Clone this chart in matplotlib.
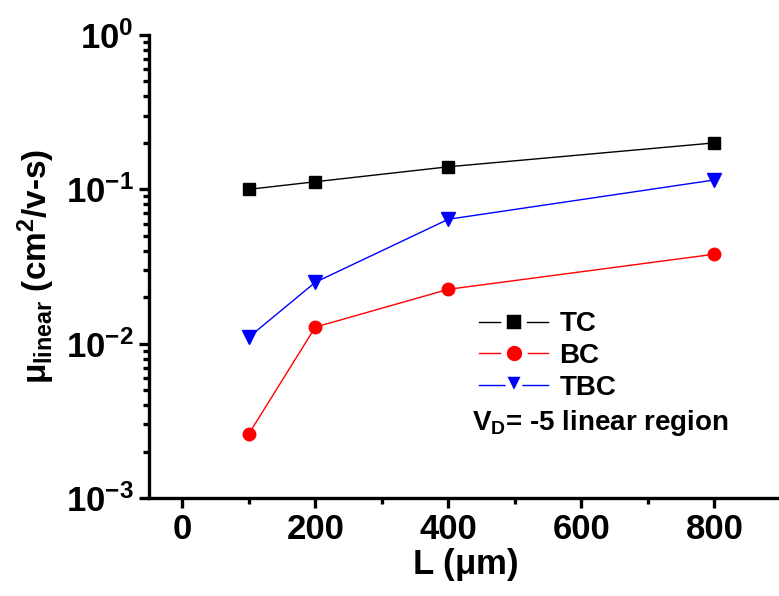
import numpy as np
import matplotlib
matplotlib.use("Agg")
from matplotlib import pyplot as plt
from matplotlib.ticker import LogLocator, MultipleLocator

plt.rcParams['font.family'] = ['Liberation Sans', 'DejaVu Sans']
plt.rcParams['font.weight'] = 'bold'
plt.rcParams['mathtext.fontset'] = 'custom'
plt.rcParams['mathtext.rm'] = 'Liberation Sans:bold'
plt.rcParams['mathtext.it'] = 'Liberation Sans:bold'
plt.rcParams['mathtext.bf'] = 'Liberation Sans:bold'

L = [100, 200, 400, 800]
mu_tc = [0.100, 0.112, 0.140, 0.200]
mu_bc = [0.0026, 0.0128, 0.0225, 0.038]
mu_tbc = [0.011, 0.025, 0.064, 0.115]

fig = plt.figure(figsize=(7.79, 5.96), dpi=100)
ax = fig.add_axes([149 / 779, 98 / 596, 632 / 779, 463 / 596])

ax.plot(L, mu_tc, '-s', color='black', lw=1, ms=8, label='TC')
ax.plot(L, mu_bc, '-o', color='red', lw=1, ms=9, label='BC')
ax.plot(L, mu_tbc, '-v', color='blue', lw=1, ms=10, label='TBC')

ax.set_yscale('log')
ax.set_ylim(1e-3, 1)
ax.set_xlim(-50, 900)
ax.xaxis.set_major_locator(MultipleLocator(200))
ax.xaxis.set_minor_locator(MultipleLocator(100))
ax.yaxis.set_major_locator(LogLocator(base=10, numticks=10))
ax.yaxis.set_minor_locator(LogLocator(base=10, subs=np.arange(2, 10), numticks=10))

for side in ['top', 'right']:
    ax.spines[side].set_visible(False)
for side in ['left', 'bottom']:
    ax.spines[side].set_linewidth(2.4)

ax.tick_params(axis='both', which='major', direction='out', length=7, width=2.4,
               labelsize=25, pad=4)
ax.tick_params(axis='both', which='minor', direction='out', length=4, width=2.4)

ax.set_xlabel(r'L ($\mu$m)', fontsize=25, fontweight='bold', labelpad=0)
ax.set_ylabel(r'$\mu_{\rm linear}$ (cm$^2$/v-s)', fontsize=24, fontweight='bold', labelpad=6)

leg = ax.legend(loc='upper left', bbox_to_anchor=(0.50, 0.433), frameon=False,
                fontsize=20, handlelength=2.5, handletextpad=0.4,
                labelspacing=0.2, borderpad=0)
# white marker edge leaves a small gap in the legend line around each marker
for h in leg.legend_handles:
    h.set_markeredgecolor('white')
    h.set_markeredgewidth(4)
    h.set_markersize(h.get_markersize() + 6)
ax.text(0.511, 0.147, r'V$_{\rm D}$= -5 linear region', transform=ax.transAxes,
        fontsize=20, fontweight='bold', va='baseline')

fig.savefig('out.png', dpi=100)
